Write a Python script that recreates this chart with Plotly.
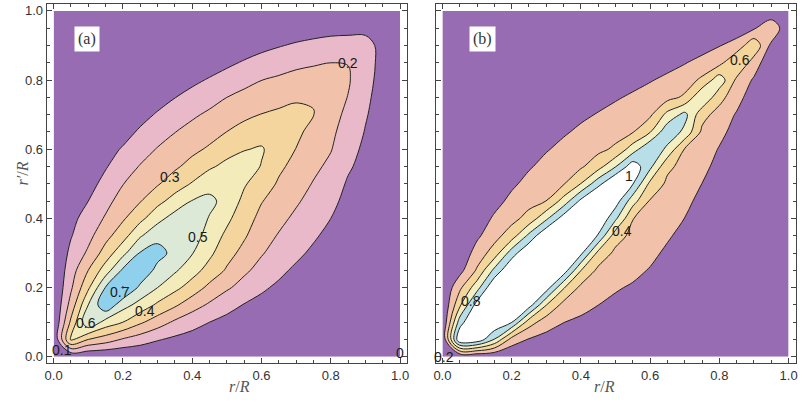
import plotly.graph_objects as go

# ---------------- data ----------------
GRID = [0.0, 0.05, 0.1, 0.15, 0.2, 0.25, 0.3, 0.35, 0.4, 0.45, 0.5,
        0.55, 0.6, 0.65, 0.7, 0.75, 0.8, 0.85, 0.9, 0.95, 1.0]

# panel (a): one list per r/R column (values listed along r'/R)
Z_A_COLUMNS = [
    [0]*21,
    [0, 0.42, 0.32, 0.238, 0.185, 0.155, 0.124, 0.094, 0.075, 0.068, 0.062, 0.056, 0.05, 0.044, 0.038, 0.032, 0.026, 0.019, 0.013, 0.006, 0],
    [0, 0.3, 0.59, 0.5, 0.383, 0.3, 0.217, 0.171, 0.136, 0.1, 0.064, 0.058, 0.051, 0.045, 0.038, 0.032, 0.026, 0.019, 0.013, 0.006, 0],
    [0, 0.25, 0.463, 0.68, 0.605, 0.45, 0.342, 0.268, 0.211, 0.169, 0.131, 0.092, 0.064, 0.057, 0.05, 0.043, 0.036, 0.028, 0.019, 0.01, 0],
    [0, 0.19, 0.4, 0.54, 0.706, 0.617, 0.472, 0.359, 0.287, 0.242, 0.197, 0.153, 0.109, 0.065, 0.056, 0.046, 0.037, 0.028, 0.019, 0.009, 0],
    [0, 0.15, 0.316, 0.464, 0.579, 0.675, 0.607, 0.489, 0.372, 0.295, 0.25, 0.206, 0.16, 0.114, 0.068, 0.057, 0.045, 0.034, 0.023, 0.011, 0],
    [0, 0.108, 0.249, 0.382, 0.5, 0.571, 0.635, 0.57, 0.469, 0.37, 0.291, 0.249, 0.206, 0.158, 0.11, 0.061, 0.049, 0.037, 0.024, 0.012, 0],
    [0, 0.08, 0.183, 0.316, 0.426, 0.514, 0.57, 0.598, 0.54, 0.44, 0.352, 0.284, 0.241, 0.198, 0.148, 0.098, 0.048, 0.036, 0.024, 0.012, 0],
    [0, 0.06, 0.138, 0.242, 0.356, 0.439, 0.505, 0.55, 0.565, 0.505, 0.408, 0.334, 0.277, 0.232, 0.185, 0.132, 0.079, 0.059, 0.04, 0.02, 0],
    [0, 0.045, 0.1, 0.186, 0.274, 0.364, 0.421, 0.457, 0.493, 0.525, 0.462, 0.387, 0.314, 0.263, 0.217, 0.164, 0.109, 0.053, 0.035, 0.018, 0],
    [0, 0.035, 0.077, 0.128, 0.215, 0.288, 0.336, 0.379, 0.421, 0.464, 0.488, 0.424, 0.367, 0.301, 0.25, 0.2, 0.14, 0.081, 0.054, 0.027, 0],
    [0, 0.025, 0.06, 0.096, 0.16, 0.22, 0.27, 0.312, 0.344, 0.375, 0.41, 0.448, 0.395, 0.336, 0.279, 0.227, 0.171, 0.11, 0.049, 0.025, 0],
    [0, 0.02, 0.045, 0.075, 0.113, 0.164, 0.209, 0.24, 0.272, 0.305, 0.35, 0.395, 0.41, 0.357, 0.303, 0.251, 0.199, 0.136, 0.074, 0.037, 0],
    [0, 0.014, 0.035, 0.058, 0.085, 0.119, 0.156, 0.193, 0.225, 0.256, 0.288, 0.318, 0.347, 0.368, 0.318, 0.268, 0.216, 0.156, 0.094, 0.035, 0],
    [0, 0.01, 0.026, 0.043, 0.062, 0.085, 0.119, 0.15, 0.181, 0.212, 0.241, 0.271, 0.298, 0.318, 0.33, 0.286, 0.234, 0.177, 0.112, 0.047, 0],
    [0, 0.007, 0.018, 0.03, 0.045, 0.062, 0.084, 0.112, 0.139, 0.167, 0.194, 0.221, 0.247, 0.274, 0.302, 0.296, 0.241, 0.19, 0.125, 0.06, 0],
    [0, 0.005, 0.012, 0.02, 0.03, 0.042, 0.056, 0.075, 0.1, 0.126, 0.153, 0.179, 0.205, 0.22, 0.235, 0.248, 0.255, 0.2, 0.135, 0.07, 0],
    [0, 0.003, 0.007, 0.012, 0.018, 0.025, 0.033, 0.043, 0.055, 0.07, 0.088, 0.113, 0.135, 0.157, 0.178, 0.197, 0.21, 0.198, 0.137, 0.074, 0],
    [0, 0.002, 0.004, 0.007, 0.01, 0.015, 0.02, 0.027, 0.035, 0.045, 0.055, 0.067, 0.08, 0.095, 0.108, 0.12, 0.132, 0.14, 0.135, 0.075, 0],
    [0, 0.001, 0.002, 0.003, 0.005, 0.007, 0.01, 0.013, 0.017, 0.022, 0.027, 0.033, 0.04, 0.047, 0.054, 0.06, 0.066, 0.07, 0.07, 0.05, 0],
    [0]*21,
]

# panel (b)
Z_B_COLUMNS = [
    [0]*21,
    [0, 1.2, 0.9, 0.56, 0.356, 0.133, 0.0375, 0.035, 0.032, 0.03, 0.027, 0.025, 0.022, 0.02, 0.017, 0.015, 0.012, 0.01, 0.007, 0.004, 0],
    [0, 1.15, 1.3, 1.085, 0.72, 0.425, 0.2875, 0.1625, 0.08, 0.072, 0.066, 0.06, 0.054, 0.048, 0.042, 0.036, 0.03, 0.024, 0.018, 0.009, 0],
    [0, 0.79, 1.2, 1.35, 1.2, 0.85, 0.486, 0.33, 0.23, 0.13, 0.118, 0.106, 0.095, 0.083, 0.071, 0.059, 0.047, 0.035, 0.024, 0.012, 0],
    [0, 0.32, 1.01, 1.2, 1.35, 1.2, 0.9, 0.5, 0.339, 0.252, 0.165, 0.149, 0.132, 0.116, 0.099, 0.083, 0.066, 0.05, 0.033, 0.017, 0],
    [0, 0.185, 0.493, 1.1, 1.25, 1.35, 1.2, 0.85, 0.467, 0.3375, 0.259, 0.181, 0.161, 0.141, 0.121, 0.1, 0.08, 0.06, 0.04, 0.02, 0],
    [0, 0.133, 0.29, 0.605, 1.1, 1.25, 1.35, 1.2, 0.76, 0.402, 0.329, 0.257, 0.186, 0.163, 0.14, 0.116, 0.093, 0.07, 0.047, 0.023, 0],
    [0, 0.095, 0.203, 0.336, 0.62, 1.12, 1.27, 1.35, 1.1, 0.68, 0.386, 0.317, 0.248, 0.179, 0.153, 0.128, 0.102, 0.077, 0.051, 0.026, 0],
    [0, 0.075, 0.165, 0.257, 0.352, 0.605, 1.05, 1.25, 1.35, 1.05, 0.605, 0.372, 0.303, 0.234, 0.166, 0.138, 0.111, 0.083, 0.055, 0.028, 0],
    [0, 0.06, 0.135, 0.201, 0.279, 0.355, 0.543, 0.98, 1.2, 1.35, 0.93, 0.52, 0.354, 0.283, 0.211, 0.14, 0.112, 0.084, 0.056, 0.028, 0],
    [0, 0.048, 0.105, 0.165, 0.215, 0.29, 0.355, 0.486, 0.84, 1.1, 1.25, 0.79, 0.433, 0.332, 0.257, 0.182, 0.146, 0.109, 0.073, 0.036, 0],
    [0, 0.035, 0.08, 0.13, 0.183, 0.238, 0.292, 0.346, 0.405, 0.68, 1.01, 1.12, 0.704, 0.389, 0.307, 0.226, 0.145, 0.109, 0.073, 0.036, 0],
    [0, 0.025, 0.06, 0.1, 0.145, 0.19, 0.238, 0.286, 0.333, 0.381, 0.55, 0.85, 0.99, 0.59, 0.365, 0.277, 0.188, 0.141, 0.094, 0.047, 0],
    [0, 0.029, 0.057, 0.086, 0.115, 0.143, 0.172, 0.219, 0.266, 0.313, 0.36, 0.44, 0.75, 0.94, 0.66, 0.337, 0.239, 0.141, 0.094, 0.047, 0],
    [0, 0.022, 0.044, 0.066, 0.087, 0.109, 0.131, 0.153, 0.198, 0.247, 0.293, 0.34, 0.386, 0.75, 0.86, 0.433, 0.301, 0.191, 0.127, 0.064, 0],
    [0, 0.016, 0.033, 0.049, 0.065, 0.082, 0.098, 0.114, 0.131, 0.147, 0.198, 0.253, 0.306, 0.36, 0.47, 0.79, 0.44, 0.256, 0.129, 0.065, 0],
    [0, 0.013, 0.025, 0.038, 0.051, 0.064, 0.076, 0.089, 0.102, 0.115, 0.127, 0.14, 0.187, 0.253, 0.32, 0.47, 0.72, 0.34, 0.191, 0.095, 0],
    [0, 0.01, 0.02, 0.03, 0.039, 0.049, 0.059, 0.069, 0.079, 0.088, 0.098, 0.108, 0.118, 0.13, 0.182, 0.271, 0.36, 0.59, 0.279, 0.09, 0],
    [0, 0.006, 0.011, 0.017, 0.022, 0.028, 0.034, 0.04, 0.046, 0.052, 0.058, 0.064, 0.07, 0.078, 0.085, 0.093, 0.173, 0.307, 0.55, 0.175, 0],
    [0, 0.003, 0.005, 0.008, 0.01, 0.012, 0.014, 0.016, 0.018, 0.02, 0.022, 0.024, 0.026, 0.028, 0.03, 0.032, 0.035, 0.04, 0.1525, 0.39, 0],
    [0]*21,
]

LEVELS_A = [0.1, 0.7, 0.1]   # start, end, step
LEVELS_B = [0.2, 1.0, 0.2]

TICK_VALUES = [0.0, 0.2, 0.4, 0.6, 0.8, 1.0]
TICK_TEXT = ["0.0", "0.2", "0.4", "0.6", "0.8", "1.0"]

# contour labels
LABELS_A_TEXT = ["0.1", "0.6", "0.7", "0.4", "0.5", "0.3", "0.2", "0"]
LABELS_A_X = [0.024, 0.093, 0.192, 0.264, 0.418, 0.336, 0.85, 0.999]
LABELS_A_Y = [0.02, 0.098, 0.188, 0.131, 0.345, 0.519, 0.849, 0.012]
LABELS_B_TEXT = ["0.2", "0.8", "1", "0.4", "0.6"]
LABELS_B_X = [0.005, 0.082, 0.538, 0.519, 0.861]
LABELS_B_Y = [0.0, 0.161, 0.524, 0.365, 0.858]

# ---------------- styles ----------------
PURPLE = "#976cb2"
COLORS_A = [PURPLE, "#e9b9c9", "#f1c2a9", "#f4d59e", "#f3ebb9", "#dce9d6", "#8fd0ec", "#8fd0ec"]
COLORS_B = [PURPLE, "#f1c2a9", "#f4d69c", "#f3efc0", "#b8dfe8", "#ffffff"]


def to_rows(columns):
    return [list(r) for r in zip(*columns)]


def scale(colors):
    n = len(colors) - 1
    return [[k / n, c] for k, c in enumerate(colors)]


LINE_COL = "#222222"

fig = go.Figure()
fig.add_trace(go.Contour(
    x=GRID, y=GRID, z=to_rows(Z_A_COLUMNS), xaxis="x", yaxis="y",
    contours=dict(start=LEVELS_A[0], end=LEVELS_A[1], size=LEVELS_A[2],
                  coloring="fill", showlines=True, showlabels=False),
    line=dict(color=LINE_COL, width=1, smoothing=1),
    colorscale=scale(COLORS_A), showscale=False, hoverinfo="skip"))
fig.add_trace(go.Contour(
    x=GRID, y=GRID, z=to_rows(Z_B_COLUMNS), xaxis="x2", yaxis="y2",
    contours=dict(start=LEVELS_B[0], end=LEVELS_B[1], size=LEVELS_B[2],
                  coloring="fill", showlines=True, showlabels=False),
    line=dict(color=LINE_COL, width=1, smoothing=1),
    colorscale=scale(COLORS_B), showscale=False, hoverinfo="skip"))

W, H = 802, 409
AX_COL = "#444444"
tickfont = dict(family="Liberation Sans, Arial, sans-serif", size=13, color="#333333")
common = dict(
    range=[-0.02, 1.02], showgrid=False, zeroline=False, automargin=False,
    showline=True, linecolor=AX_COL, linewidth=1, mirror="allticks",
    ticks="inside", ticklen=5, tickwidth=1, tickcolor=AX_COL,
    tickmode="array", tickvals=TICK_VALUES, ticktext=TICK_TEXT, tickfont=tickfont,
    minor=dict(ticks="inside", ticklen=3, tickwidth=1, tickcolor=AX_COL,
               tickmode="linear", tick0=0, dtick=0.05, showgrid=False),
)
yr = dict(common, range=[-0.018, 1.02])

ydom = [1 - 363 / H, 1 - 4 / H]
fig.update_layout(
    width=W, height=H, margin=dict(l=0, r=0, t=0, b=0, pad=0, autoexpand=False),
    paper_bgcolor="white", plot_bgcolor="white", showlegend=False,
    xaxis=dict(common, domain=[46.7 / W, 407 / W], anchor="y"),
    yaxis=dict(yr, domain=ydom, anchor="x"),
    xaxis2=dict(common, domain=[435.5 / W, 795.5 / W], anchor="y2"),
    yaxis2=dict(yr, domain=ydom, anchor="x2", showticklabels=False),
)

lab_font = dict(family="Liberation Sans, Arial, sans-serif", size=14, color="#1a1a1a")
ann = []
for t, x, y in zip(LABELS_A_TEXT, LABELS_A_X, LABELS_A_Y):
    ann.append(dict(text=t, x=x, y=y, xref="x", yref="y", showarrow=False, font=lab_font))
for t, x, y in zip(LABELS_B_TEXT, LABELS_B_X, LABELS_B_Y):
    ann.append(dict(text=t, x=x, y=y, xref="x2", yref="y2", showarrow=False, font=lab_font))

panel_font = dict(family="Liberation Serif, Times New Roman, serif", size=16, color="#333333")
ann.append(dict(text="(a)", x=0.097, y=0.918, xref="x", yref="y", showarrow=False,
                font=panel_font, bgcolor="white", borderpad=3))
ann.append(dict(text="(b)", x=0.117, y=0.918, xref="x2", yref="y2", showarrow=False,
                font=panel_font, bgcolor="white", borderpad=3))

title_font = dict(family="Liberation Serif, Times New Roman, serif", size=16, color="#555555")
ann.append(dict(text="<i>r</i>/<i>R</i>", x=227 / W, y=1 - 397 / H, xref="paper", yref="paper",
                showarrow=False, font=title_font))
ann.append(dict(text="<i>r</i>/<i>R</i>", x=617 / W, y=1 - 397 / H, xref="paper", yref="paper",
                showarrow=False, font=title_font))
ann.append(dict(text="<i>r′</i>/<i>R</i>", x=11 / W, y=1 - 174 / H, xref="paper", yref="paper",
                showarrow=False, font=title_font, textangle=-90))

fig.update_layout(annotations=ann)
fig.write_html(
    "out.html",
    config={"displayModeBar": False, "staticPlot": True},
    post_script="document.body.style.margin='0';document.documentElement.style.margin='0';"
                "document.body.style.overflow='hidden';",
)
